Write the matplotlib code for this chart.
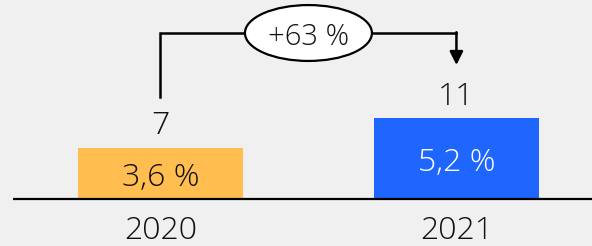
import matplotlib.pyplot as plt
from matplotlib.patches import Ellipse

# data
years = ["2020", "2021"]
counts = [7, 11]
shares = ["3,6 %", "5,2 %"]
change = "+63 %"
colors = ["#FFBE4F", "#1F66FF"]
share_colors = ["#111111", "white"]

plt.rcParams['font.family'] = ['Open Sans', 'DejaVu Sans']
plt.rcParams['font.weight'] = 'light'
FS = 23
TXT = "#111111"

fig = plt.figure(figsize=(5.92, 2.46), dpi=100)
fig.patch.set_facecolor("#F0F0F0")
ax = fig.add_axes([0, 0, 1, 1])
ax.set_facecolor("#F0F0F0")

x = [0, 1]
ax.bar(x, counts, width=0.557, color=colors)
ax.set_xlim(-0.542, 1.458)
ax.set_ylim(-6.39, 27.07)
ax.axis("off")

# baseline
ax.plot([-0.498, 1.458], [0, 0], color="black", lw=1.6, solid_capstyle="butt")

for xi, c, s, sc, yr in zip(x, counts, shares, share_colors, years):
    ax.annotate(str(c), (xi, c), xytext=(0, 9.5), textcoords="offset points",
                ha="center", va="baseline", fontsize=FS, color=TXT)
    ax.text(xi, c / 2 - 1.7, s, ha="center", va="baseline", fontsize=FS, color=sc)
    ax.text(xi, -5.5, yr, ha="center", va="baseline", fontsize=FS, color=TXT)

# connector with change label
y_top = counts[1] + 11.58
ax.plot([x[0], x[0], x[1]], [counts[0] + 6.88, y_top, y_top], color="black",
        lw=1.8, solid_joinstyle="miter")
ax.annotate("", xy=(x[1], counts[1] + 7.23), xytext=(x[1], y_top + 0.1),
            arrowprops=dict(arrowstyle="-|>", color="black", lw=1.8,
                            mutation_scale=20, shrinkA=0, shrinkB=0))
mid = (x[0] + x[1]) / 2
ax.add_patch(Ellipse((mid, y_top), 0.429, 7.6, facecolor="white",
                     edgecolor="black", lw=1.6, zorder=3))
ax.text(mid, counts[1] + 9.95, change, ha="center", va="baseline", fontsize=21,
        color=TXT, zorder=4)

fig.savefig("out.png", dpi=100, facecolor=fig.get_facecolor())
